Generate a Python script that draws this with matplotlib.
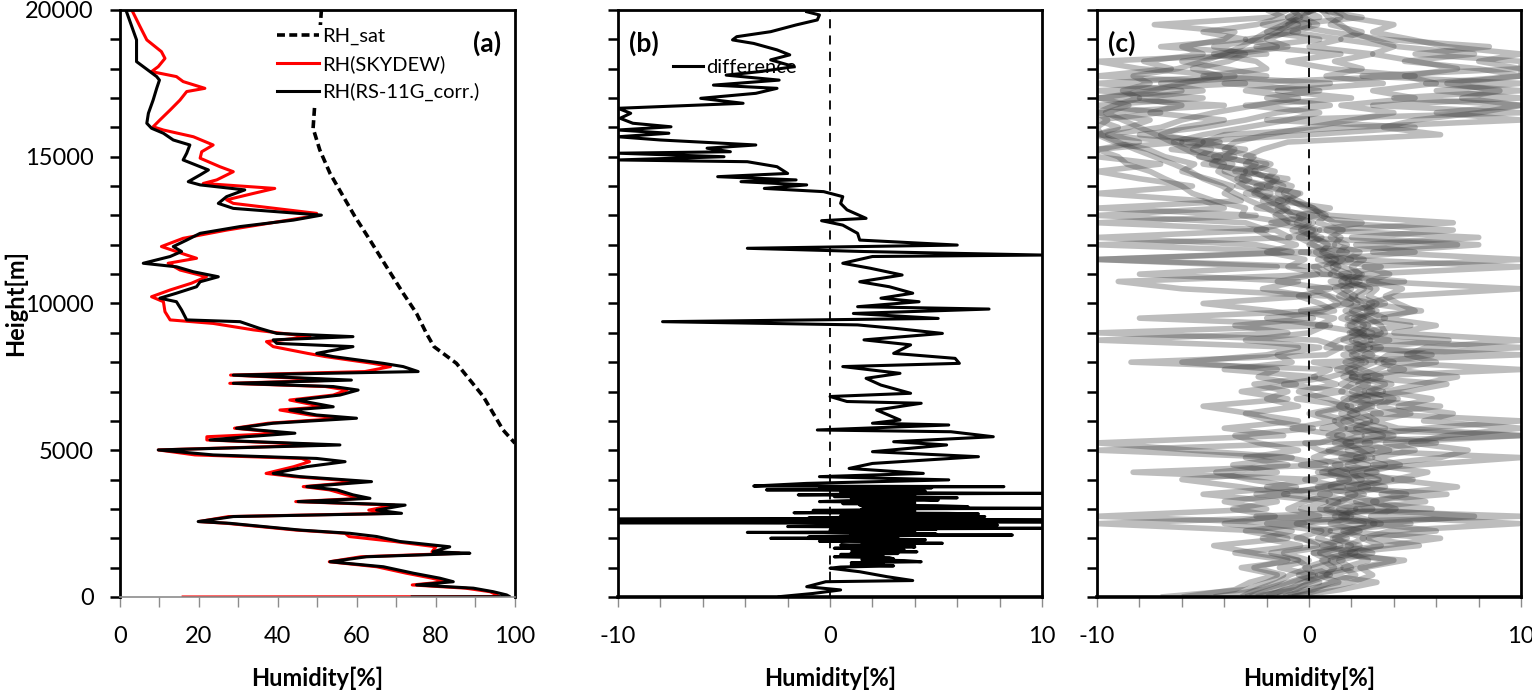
import matplotlib
matplotlib.use('Agg')
import matplotlib.pyplot as plt
from matplotlib.ticker import MultipleLocator

plt.rcParams['font.family'] = ['Lato', 'DejaVu Sans']
plt.rcParams['axes.unicode_minus'] = False

# ---- panel (a): humidity profiles ----
sat_h = [20000, 19600, 15970, 15230, 14430, 13750, 12960, 12160, 11250, 10350, 9660, 8980, 8530, 7960, 6830, 5690, 5240]
sat_rh = [51.0, 50.8, 48.9, 50.6, 53.2, 56.1, 59.5, 63.3, 67.5, 71.7, 75.1, 77.6, 79.5, 85.2, 92.0, 97.0, 100.0]

rs_h = [20000, 18980, 18240, 18070, 17900, 17730, 17610, 17330, 16930, 16480, 16140, 15970, 15800, 15570, 15400,
        15120, 14890, 14660, 14550, 14380, 14150, 14040, 13870, 13640, 13410, 13240, 13010, 12840, 12620, 12390,
        12160, 11940, 11770, 11600, 11370, 11250, 11080, 10910, 10740, 10570, 10350, 10180, 10060, 9780, 9440,
        9380, 9150, 8980, 8870, 8760, 8640, 8530, 8300, 8190, 7960, 7850, 7680, 7560, 7390, 7280, 7170, 7050,
        6880, 6710, 6480, 6370, 6200, 6090, 5920, 5750, 5580, 5460, 5350, 5180, 5010, 4840, 4720, 4610, 4440,
        4210, 4100, 3930, 3760, 3650, 3480, 3360, 3250, 3130, 2960, 2850, 2740, 2570, 2510, 2280, 2170, 2060,
        1890, 1710, 1540, 1490, 1370, 1200, 1030, 810, 640, 520, 410, 300, 180, 70, 10, 0]
rs_rh = [1.5, 4.2, 4.2, 5.9, 7.6, 9.3, 10.0, 9.3, 8.4, 7.2, 6.8, 8.0, 11.0, 13.5, 17.7,
         16.9, 16.0, 20.3, 22.4, 20.3, 17.3, 20.3, 31.6, 27.0, 24.9, 28.7, 51.0, 43.9, 30.4, 20.3,
         16.9, 13.5, 15.6, 12.7, 5.9, 14.3, 18.6, 24.9, 20.3, 19.4, 14.3, 10.1, 14.3, 15.6, 16.9,
         30.4, 35.4, 39.7, 59.0, 38.8, 39.7, 59.0, 49.8, 54.0, 66.7, 71.7, 75.5, 28.7, 58.6, 28.7, 54.0, 60.3,
         55.7, 44.7, 54.0, 43.0, 49.8, 59.9, 38.8, 29.5, 44.3, 32.0, 22.8, 55.7, 9.7, 23.6, 49.8, 57.0, 47.3,
         38.8, 45.6, 63.7, 47.3, 54.9, 59.0, 63.3, 45.1, 72.2, 65.0, 71.3, 28.7, 19.8, 27.8, 45.6, 58.2, 65.0,
         70.9, 83.5, 79.3, 88.6, 62.4, 53.2, 66.7, 74.3, 81.0, 84.4, 75.1, 89.5, 94.5, 97.9, 98.7, 74.0]

sky_h = [20000, 19430, 18980, 18580, 18350, 18070, 17900, 17730, 17560, 17330, 17220, 16930, 16590, 16250, 16020,
         15910, 15680, 15400, 15170, 14950, 14660, 14490, 14210, 14090, 13920, 13750, 13530, 13410, 13070, 12960,
         12500, 12220, 11940, 11650, 11540, 11370, 11140, 10910, 10690, 10460, 10230, 10060, 9720, 9440, 9320,
         9100, 8870, 8700, 8530, 8300, 8190, 7960, 7850, 7680, 7560, 7390, 7280, 7170, 7050, 6880, 6710, 6480,
         6370, 6200, 6090, 5920, 5750, 5580, 5460, 5350, 5180, 5010, 4840, 4720, 4610, 4440, 4210, 4100, 3930,
         3760, 3650, 3480, 3360, 3250, 3130, 2960, 2850, 2740, 2570, 2510, 2280, 2170, 2060, 1890, 1710, 1540,
         1490, 1370, 1200, 1030, 810, 640, 520, 410, 300, 180, 70, 10, 0]
sky_rh = [3.0, 5.1, 6.8, 10.5, 11.4, 9.7, 8.0, 14.3, 16.0, 21.5, 16.9, 15.2, 12.7, 10.1, 8.4,
          11.0, 18.6, 23.6, 20.7, 20.3, 25.3, 28.7, 24.5, 21.1, 39.2, 33.8, 27.0, 28.7, 49.8, 48.1,
          27.0, 16.0, 10.5, 16.9, 19.4, 12.2, 15.2, 21.9, 18.1, 12.7, 8.0, 11.0, 11.4, 12.7, 23.6,
          33.8, 48.1, 37.1, 38.8, 47.5, 52.0, 64.0, 68.5, 62.0, 28.0, 55.0, 27.8, 52.0, 57.5, 54.0, 43.0, 51.5,
          40.5, 48.0, 56.5, 37.5, 29.0, 42.0, 22.0, 22.0, 52.0, 9.7, 19.0, 46.0, 48.0, 44.0, 37.0, 44.0, 61.0,
          46.4, 53.0, 57.5, 61.0, 44.5, 69.5, 63.0, 69.0, 27.5, 20.0, 27.0, 44.5, 57.0, 58.0, 69.5, 80.0, 79.0,
          86.0, 61.0, 53.0, 65.0, 72.5, 79.0, 82.5, 74.0, 87.5, 93.7, 95.4, 96.0, 16.0]

# ---- panel (b): difference ----
diff_h = [19940, 19830, 19660, 19490, 19260, 19090, 18980, 18860, 18640, 18470, 18300, 18070, 17900, 17780, 17610,
          17440, 17330, 17160, 16990, 16820, 16710, 16650, 16480, 16310, 16140, 16020, 15910, 15800, 15680, 15570,
          15400, 15290, 15170, 15120, 15000, 14890, 14830, 14660, 14430, 14320, 14210, 14150, 14040, 13920, 13810,
          13640, 13410, 13190, 12900, 12820, 12670, 12390, 12160, 11990, 11880, 11770, 11650, 11600, 11370, 11200,
          10970, 10740, 10570, 10350, 10180, 10060, 9890, 9810, 9660, 9490, 9380, 9270, 9150, 8980, 8760,
          8590, 8300, 8130, 7960, 7850, 7620, 7450, 7220, 6940, 6830, 6660, 6600, 6370, 6030, 5920,
          5860, 5690, 5630, 5460, 5290, 5180, 4950, 4780, 4550, 4380, 4210, 4100, 3990, 3870,
          3780, 3760, 3740, 3720, 3700, 3680, 3650, 3630, 3600, 3580, 3550, 3530, 3510, 3480, 3460,
          3440, 3420, 3400, 3380, 3360, 3330, 3300, 3280, 3250, 3230, 3200, 3180, 3160, 3130, 3110,
          3080, 3060, 3040, 3020, 3000, 2980, 2950, 2930, 2900, 2870, 2850, 2830, 2810, 2790, 2770,
          2740, 2720, 2700, 2680, 2650, 2640, 2620, 2610, 2600, 2580, 2560, 2545, 2530, 2510, 2490,
          2470, 2450, 2430, 2400, 2380, 2360, 2340, 2320, 2300, 2280, 2260, 2240, 2220, 2200, 2180,
          2150, 2130, 2110, 2090, 2070, 2050, 2030, 2000, 1980, 1950, 1930, 1900, 1880, 1860, 1830,
          1810, 1790, 1770, 1750, 1730, 1700, 1680, 1660, 1640, 1620, 1600, 1570, 1540, 1510, 1480,
          1450, 1420, 1400, 1370, 1340, 1300, 1270, 1240, 1200, 1170, 1130, 1100, 1060, 1020, 980,
          860, 690, 560, 520, 350, 240, 120, 10]
diff_rh = [-1.1, -0.5, -0.6, -1.6, -2.8, -4.4, -4.6, -3.6, -2.5, -1.9, -2.8, -1.7, -3.3, -4.9, -2.4,
           -5.5, -2.5, -3.5, -6.1, -4.1, -7.9, -10.0, -9.4, -9.9, -9.3, -7.5, -10.0, -7.6, -10.0, -8.0,
           -3.5, -5.8, -4.7, -10.0, -5.0, -10.0, -3.9, -2.5, -2.0, -5.3, -1.6, -4.2, -1.1, -3.1, -0.3,
           0.6, 0.5, 0.8, 1.7, -0.4, 0.6, 1.3, 1.4, 6.0, -3.9, 1.6, 10.0, 2.0, 0.6, 1.9,
           3.4, 1.4, 2.8, 3.9, 2.4, 4.2, 1.3, 7.5, 1.1, 5.1, -7.9, 1.3, 3.1, 5.3, 1.6,
           3.8, 3.0, 5.9, 6.1, 0.6, 3.3, 1.7, 2.4, 3.8, 0.0, 0.8, 4.3, 2.2, 3.3, 2.0,
           5.6, -0.6, 5.7, 7.7, 3.0, 5.5, 2.0, 7.0, 2.0, 0.9, 4.4, -0.5, 5.6, -1.1,
           -3.6, 8.2, 1.0, 4.8, -0.5, 3.0, -3.0, 2.0, 4.5, 0.5, 3.5, 10.0, 1.5, -1.5, 2.5,
           4.0, 0.2, 3.8, 6.0, 1.0, 4.2, 5.1, 0.8, -0.5, 3.0, 4.0, 0.6, 3.5, 1.4, 5.0,
           6.5, 2.0, 4.5, 10.0, 1.5, 3.8, -0.8, 4.0, 2.0, -1.7, 5.5, 7.0, 1.0, 4.0, 0.5,
           7.3, 2.0, -1.0, 3.0, -10.0, 4.0, 10.0, 2.0, -10.0, 3.5, 10.0, 1.0, -10.0, 3.0, 0.0,
           4.5, 7.9, 1.5, -2.0, 3.5, 1.0, 10.0, 2.5, 5.0, 0.0, 3.0, 1.2, 4.0, -3.9, 2.2,
           5.0, 1.0, 8.6, 2.5, 0.5, -1.0, 3.2, -2.8, 2.0, 4.5, 1.0, -0.5, 3.5, 1.5, 5.3,
           2.0, 4.0, 0.5, 1.0, 3.8, 4.0, 1.2, 0.2, 3.0, 1.0, 3.5, 2.0, 4.1, 1.0, 3.2,
           0.5, 2.5, 1.0, 0.2, 2.8, 3.0, 1.5, 3.5, 4.3, 1.0, 2.5, 1.0, 3.0, 0.5, 0.0,
           1.4, 2.7, 3.9, -0.2, -1.1, 0.5, -0.8, -2.4]

# ---- panel (c): differences of all soundings, every 250 m ----
c_h = [0, 250, 500, 750, 1000, 1250, 1500, 1750, 2000, 2250, 2500, 2750, 3000, 3250, 3500, 3750, 4000,
       4250, 4500, 4750, 5000, 5250, 5500, 5750, 6000, 6250, 6500, 6750, 7000, 7250, 7500, 7750, 8000,
       8250, 8500, 8750, 9000, 9250, 9500, 9750, 10000, 10250, 10500, 10750, 11000, 11250, 11500, 11750, 12000,
       12250, 12500, 12750, 13000, 13250, 13500, 13750, 14000, 14250, 14500, 14750, 15000, 15250, 15500, 15750, 16000,
       16250, 16500, 16750, 17000, 17250, 17500, 17750, 18000, 18250, 18500, 18750, 19000, 19250, 19500, 19750, 20000]
c_run1 = [-2.5, -1.0, -0.3, 0.8, 1.2, 0.6, 1.8, 2.4, 1.1, 2.0, 3.1, 1.5, 2.2, 0.9, 2.6, 1.8, 3.3,
          2.1, 1.2, 3.0, 2.4, 1.7, 3.5, 2.2, 2.9, 1.9, 2.6, 3.4, 2.0, 2.8, 1.6, 2.3, 3.1,
          2.2, 1.8, 2.9, 2.4, 1.9, 2.6, 1.7, 2.3, 1.8, 1.2, 1.9, 1.4, 0.8, 1.3, 0.6, 0.9,
          0.3, -0.4, 0.2, -0.8, -1.2, -1.9, -2.4, -3.0, -3.6, -4.3, -4.0, -5.1, -5.8, -6.5, -7.2, -8.0,
          -8.8, -9.6, -8.5, -9.9, -7.4, -6.0, -4.2, -5.5, -3.8, -3.0, -4.5, -2.2, -1.5, -1.0, -0.4, -0.8]
c_run2 = [-3.0, -1.8, -0.8, 0.3, -0.2, 0.9, 0.2, 1.5, 0.4, 1.0, -0.6, 1.8, 0.5, 1.4, -1.2, 0.7, 1.9,
          0.6, 1.5, 0.2, 1.1, 2.0, 0.9, 1.7, 1.2, 2.3, 1.4, 1.9, 2.6, 1.5, 2.2, 1.8, 2.7,
          2.0, 2.9, 1.6, 2.4, 2.8, 2.1, 3.0, 2.5, 2.0, 2.6, 1.5, 1.9, 1.1, 1.6, 0.8, 0.2,
          -0.5, 0.3, -0.9, -1.4, -2.0, -2.8, -3.5, -4.1, -5.0, -5.6, -6.4, -7.3, -8.2, -9.0, -9.8, -10.0,
          -9.5, -10.0, -9.2, -8.0, -8.8, -7.5, -8.3, -6.2, -5.0, -4.0, -3.2, -2.6, -2.0, -1.2, -0.6, 0.2]
c_run3 = [-1.5, 0.2, 1.0, 2.2, 1.6, 2.8, 1.9, 3.4, 2.5, 3.8, 9.9, 2.9, 4.1, 3.0, 4.6, 2.4, 3.9,
          2.7, 4.3, 3.1, 5.0, 3.6, 10.0, 4.2, 3.0, 4.8, 3.3, 4.0, 2.8, 3.9, 2.6, 4.5, 3.2,
          3.7, 10.0, 2.9, 3.4, 2.5, 3.6, 2.7, 3.2, 2.3, 2.9, 2.0, 2.6, 10.0, 1.8, 2.4, 1.2,
          1.5, 0.8, 6.8, 1.0, -0.2, -0.8, -1.5, -1.2, -2.0, -2.6, -1.8, -3.0, -2.2, -1.0, 6.2, 3.5,
          5.0, 8.0, 10.0, 7.2, 9.0, 6.5, 10.0, 8.0, 4.5, 7.8, 4.2, 3.0, 2.0, 1.5, 0.9, 0.6]
c_run4 = [-3.2, -2.5, -1.5, -0.9, 0.0, -0.5, -1.8, 0.4, -0.3, -2.2, -10.0, 0.5, -1.0, -0.2, 1.0, -2.0, 0.3,
          -8.3, 0.8, -1.0, -10.0, 0.5, 1.6, -0.8, 1.2, 0.0, 1.8, 0.9, -0.5, 1.3, 0.2, 1.0, -8.4,
          0.8, 1.5, 0.4, -10.0, 1.0, -8.0, 0.6, 1.4, 0.9, -6.0, -9.0, 1.0, 0.4, -10.0, 0.0, -10.0,
          -0.9, -1.6, -10.0, -2.5, -10.0, -3.2, -4.0, -3.6, -4.8, -6.0, -5.4, -6.8, -7.6, -9.2, -10.0, -9.0,
          -10.0, -7.0, -10.0, -5.0, -10.0, -3.0, -10.0, -6.5, -7.8, -5.0, -6.0, -4.0, -3.5, -7.3, -1.8, -1.0]
c_run5 = [-0.8, 0.6, 2.0, 3.0, 2.4, 4.0, 1.5, 5.2, 2.8, 6.0, 3.0, 7.8, 2.2, 5.5, 3.4, 7.0, 4.0,
          5.6, 3.0, 6.2, 7.5, 4.8, 6.5, 10.0, 5.4, 6.8, 4.2, 5.8, 3.6, 5.2, 7.0, 3.8, 6.0,
          4.6, 5.5, 10.0, 4.0, 6.0, 3.5, 5.0, 4.2, 3.6, 4.4, 2.8, 3.8, 2.6, 10.0, 3.0, 8.0,
          2.0, 6.8, 1.2, 0.6, 0.2, -1.0, -0.5, -2.0, -1.5, -3.0, -2.5, -4.0, -3.5, -5.0, -4.0, 2.0,
          10.0, 6.0, 10.0, 4.0, 10.0, 5.5, 10.0, 10.0, 8.0, 10.0, 6.5, 4.8, 3.0, 4.0, 1.8, 1.2]
c_run6 = [-7.0, -3.0, -2.0, -1.2, -2.6, -1.0, -3.5, -0.4, -2.2, -0.8, -4.0, -1.6, -3.6, -1.5, -5.0, -0.6, -2.8,
          -4.4, -1.0, -3.0, -0.5, -2.4, -3.5, 0.2, -1.8, -3.0, -0.5, -2.0, -1.0, -2.6, 0.3, -4.0, -0.8,
          -1.5, 0.5, -3.0, 0.0, 0.8, -2.0, 1.2, 0.5, -0.5, 1.0, -1.5, 0.4, -1.0, -0.2, -2.0, -0.6,
          -1.8, -2.5, -1.0, -3.2, -3.0, -4.5, -5.5, -6.0, -6.8, -7.5, -8.6, -9.0, -10.0, -8.0, -9.5, -7.0,
          -6.0, -4.5, -2.5, -0.5, -3.0, 1.0, -5.0, -2.0, -2.5, -4.5, -1.5, -3.0, -0.5, -2.2, 0.5, -0.2]
c_run7 = [-2.0, -1.2, 0.5, -0.5, 1.5, 1.0, 2.2, 0.6, 1.8, 0.2, 2.6, 1.2, 3.0, 2.0, 0.5, 2.8, 1.4,
          3.2, 1.8, 2.5, 0.9, 2.9, 1.3, 3.6, 2.2, 1.5, 3.0, 2.0, 3.5, 2.3, 3.4, 2.5, 1.7,
          3.0, 2.2, 3.8, 1.9, 2.6, 1.5, 2.2, 3.0, 1.4, 2.0, 1.0, 2.5, 1.6, 0.4, 1.8, 0.0,
          0.6, -0.8, 0.0, -1.6, -1.0, -2.2, -1.8, -3.4, -2.8, -4.0, -3.6, -5.2, -4.6, -6.4, -5.0, -3.0,
          -1.0, 0.5, -3.0, 2.0, -1.5, 3.5, 0.8, 2.5, 1.2, 3.0, 0.0, 1.5, -0.8, 0.4, -0.3, 0.1]
c_run8 = [-1.0, 1.5, 3.2, 0.8, 2.6, 4.5, 0.2, 3.6, 6.2, 1.0, 4.8, -2.5, 5.8, 2.2, 6.5, 1.0, 4.9,
          0.4, 5.2, 10.0, 1.8, 6.0, 2.6, 5.5, 10.0, 3.0, 6.2, 1.6, 4.6, 6.5, 2.0, 10.0, 3.5,
          5.8, 3.0, 6.6, 2.0, 4.8, 1.8, 5.3, 2.8, 4.0, 10.0, 3.2, 1.5, 3.4, 0.8, 5.0, 2.2,
          8.0, 0.5, 2.5, -0.5, 1.0, -1.5, -0.4, -2.5, -1.0, -3.5, -2.0, -4.5, -3.0, -6.0, 0.0, 5.0,
          -2.0, 10.0, 3.0, 10.0, 6.0, 10.0, 2.5, 10.0, 10.0, 5.0, 8.5, 3.5, 1.0, -1.0, 2.5, 0.5]
c_run9 = [-6.0, -3.5, -2.8, -1.5, -3.2, -0.5, -2.6, -4.5, -1.0, -3.0, -0.2, -10.0, -2.0, -4.0, -1.0, -3.2, -6.0,
          -1.5, -3.6, -0.8, -5.5, -10.0, -1.2, -4.0, -0.5, -2.8, -5.0, -1.0, -3.2, -0.6, -2.4, -1.5, -6.0,
          -2.0, -0.5, -10.0, -1.0, -3.5, 0.2, -1.8, -5.0, 0.0, -2.2, -0.5, -8.0, -1.5, -10.0, -0.8, -2.5,
          -10.0, -2.0, -3.0, -10.0, -4.0, -5.0, -10.0, -5.5, -8.0, -10.0, -7.0, -10.0, -10.0, -6.0, -10.0, -8.5,
          -7.5, -10.0, -4.0, -10.0, -6.0, -10.0, -3.5, -8.0, -10.0, -2.0, -7.0, -3.0, -5.0, -2.5, -1.2, -2.0]
c_run10 = [-2.8, -0.6, 0.0, 1.0, 0.2, 1.6, 0.5, 2.0, 1.2, 2.4, 1.0, 2.0, 0.8, 1.5, 2.2, 0.4, 2.5,
           1.0, 2.8, 1.5, 3.0, 1.2, 2.5, 1.8, 3.2, 2.6, 1.8, 2.8, 1.5, 2.0, 2.8, 1.3, 2.5,
           1.6, 2.6, 2.0, 3.0, 1.8, 2.4, 3.2, 1.6, 2.2, 1.6, 2.4, 1.0, 1.4, 0.9, 0.3, 1.2,
           0.0, 0.5, -0.6, -0.2, -1.5, -1.0, -2.6, -2.2, -3.2, -3.0, -4.6, -4.2, -5.5, -5.0, -7.0, -6.0,
           -4.0, -7.5, -6.0, -8.0, -5.0, -7.0, -2.0, -4.0, -6.0, -3.5, -1.0, -2.0, -1.0, 0.0, -1.0, -0.5]
c_run11 = [-1.2, -0.2, 1.4, 0.4, 2.0, 1.4, 3.0, 1.8, 2.6, 1.6, 3.4, 2.2, 1.4, 3.2, 1.8, 3.6, 2.4,
           2.0, 3.6, 2.2, 3.8, 2.6, 4.0, 2.8, 1.6, 3.4, 2.4, 4.2, 2.6, 3.6, 2.0, 3.2, 4.0,
           2.6, 3.4, 2.2, 3.6, 3.4, 2.8, 2.0, 3.6, 2.8, 3.2, 1.8, 2.4, 2.0, 2.6, 1.4, 1.8,
           1.0, 1.6, 0.4, 0.8, 0.2, -0.5, -1.2, -0.8, -2.0, -1.6, -3.0, -2.6, -4.0, -3.5, -2.0, 0.0,
           2.0, 4.0, 1.5, 5.0, 3.0, 6.0, 4.5, 7.0, 5.0, 3.0, 4.0, 1.5, 2.5, 1.0, 1.5, 0.8]
c_run12 = [-4.5, -2.2, -1.0, 0.2, -1.4, 0.0, -1.2, 1.2, -0.6, 0.6, -2.0, 10.0, -0.4, 0.8, -2.5, 1.6, -0.2,
           1.8, -0.4, 2.6, 0.5, -0.2, 10.0, 0.6, 2.0, 0.4, 2.0, -0.6, 1.6, -1.2, 1.0, 2.2, 0.2,
           10.0, 0.8, 1.4, 2.6, 0.4, 1.2, -0.4, 2.0, 1.0, 0.0, 4.5, 0.6, 0.2, 2.0, -0.4, 7.0,
           -1.0, 0.2, -1.8, 0.4, -2.5, -1.2, -3.0, -1.8, -3.4, -2.5, -5.0, -3.5, -6.5, -4.2, -8.0, -5.0,
           -3.0, -1.5, 1.0, -2.0, 0.5, -4.0, 5.0, 1.0, -1.0, 1.5, -2.5, 0.5, -2.0, -0.5, -1.0, 0.3]
c_runs = [c_run1, c_run2, c_run3, c_run4, c_run5, c_run6, c_run7, c_run8, c_run9, c_run10, c_run11, c_run12]

fig = plt.figure(figsize=(15.32, 6.97), dpi=100)
ax1 = fig.add_axes([0.0783, 0.1435, 0.2578, 0.8422])
ax2 = fig.add_axes([0.4034, 0.1435, 0.2768, 0.8422])
ax3 = fig.add_axes([0.7161, 0.1435, 0.2768, 0.8422])

# panel (a)
ax1.plot(sat_rh, sat_h, color='black', lw=2.6, ls=(0, (2.2, 1.2)), label='RH_sat')
ax1.plot(sky_rh, sky_h, color='red', lw=2.2, label='RH(SKYDEW)')
ax1.plot(rs_rh, rs_h, color='black', lw=2.2, label='RH(RS-11G_corr.)')
ax1.set_xlim(0, 100)
ax1.xaxis.set_major_locator(MultipleLocator(20))
ax1.xaxis.set_minor_locator(MultipleLocator(10))
leg = ax1.legend(loc='upper left', bbox_to_anchor=(0.39, 0.975), fontsize=14.5, frameon=True,
                 facecolor='white', edgecolor='none', framealpha=1, borderpad=0.15,
                 handlelength=2.1, handletextpad=0.15, labelspacing=0.5, borderaxespad=0)
leg.get_frame().set_boxstyle('square', pad=0)
ax1.text(0.965, 0.965, '(a)', transform=ax1.transAxes, ha='right', va='top', fontsize=19,
         fontweight='bold', zorder=10)
ax1.set_ylabel('Height[m]', fontsize=17, fontweight='bold', labelpad=-2)

# panel (b)
ax2.plot(diff_rh, diff_h, color='black', lw=2.2, label='difference', zorder=3)
ax2.axvline(0, color='black', lw=1.3, ls=(0, (5, 4)), zorder=2)
ax2.set_xlim(-10, 10)
leg2 = ax2.legend(loc='upper left', bbox_to_anchor=(0.11, 0.93), fontsize=14.5, frameon=False,
                  handlelength=1.5, handletextpad=0.15, borderaxespad=0)
leg2.set_zorder(1)
ax2.text(0.025, 0.965, '(b)', transform=ax2.transAxes, ha='left', va='top', fontsize=19, fontweight='bold')

# panel (c)
for run in c_runs:
    ax3.plot(run, c_h, color='#383838', lw=4.0, alpha=0.33, solid_capstyle='butt')
ax3.axvline(0, color='black', lw=1.3, ls=(0, (5, 4)), zorder=4)
ax3.set_xlim(-10, 10)
ax3.text(0.025, 0.965, '(c)', transform=ax3.transAxes, ha='left', va='top', fontsize=19,
         fontweight='bold', zorder=10)

for ax in (ax1, ax2, ax3):
    ax.set_ylim(0, 20000)
    ax.yaxis.set_major_locator(MultipleLocator(5000))
    ax.yaxis.set_minor_locator(MultipleLocator(1000))
    if ax is not ax1:
        ax.xaxis.set_major_locator(MultipleLocator(10))
        ax.xaxis.set_minor_locator(MultipleLocator(2))
        ax.set_yticklabels([])
    ax.tick_params(axis='y', which='both', direction='out', length=7, width=1.8, color='black',
                   labelsize=17, pad=12)
    ax.tick_params(axis='x', which='both', direction='out', length=7, width=1.0, color='#8c8c8c',
                   labelsize=17, pad=14)
    for side in ('left', 'right', 'top', 'bottom'):
        ax.spines[side].set_linewidth(2.0)
        ax.spines[side].set_color('black')
    ax.set_xlabel('Humidity[%]', fontsize=17, fontweight='bold', labelpad=14)

ax1.spines['bottom'].set_color('#8c8c8c')
ax1.spines['bottom'].set_linewidth(1.2)
ax2.spines['bottom'].set_linewidth(2.6)
ax3.spines['bottom'].set_linewidth(2.6)

fig.savefig('out.png', dpi=100)
